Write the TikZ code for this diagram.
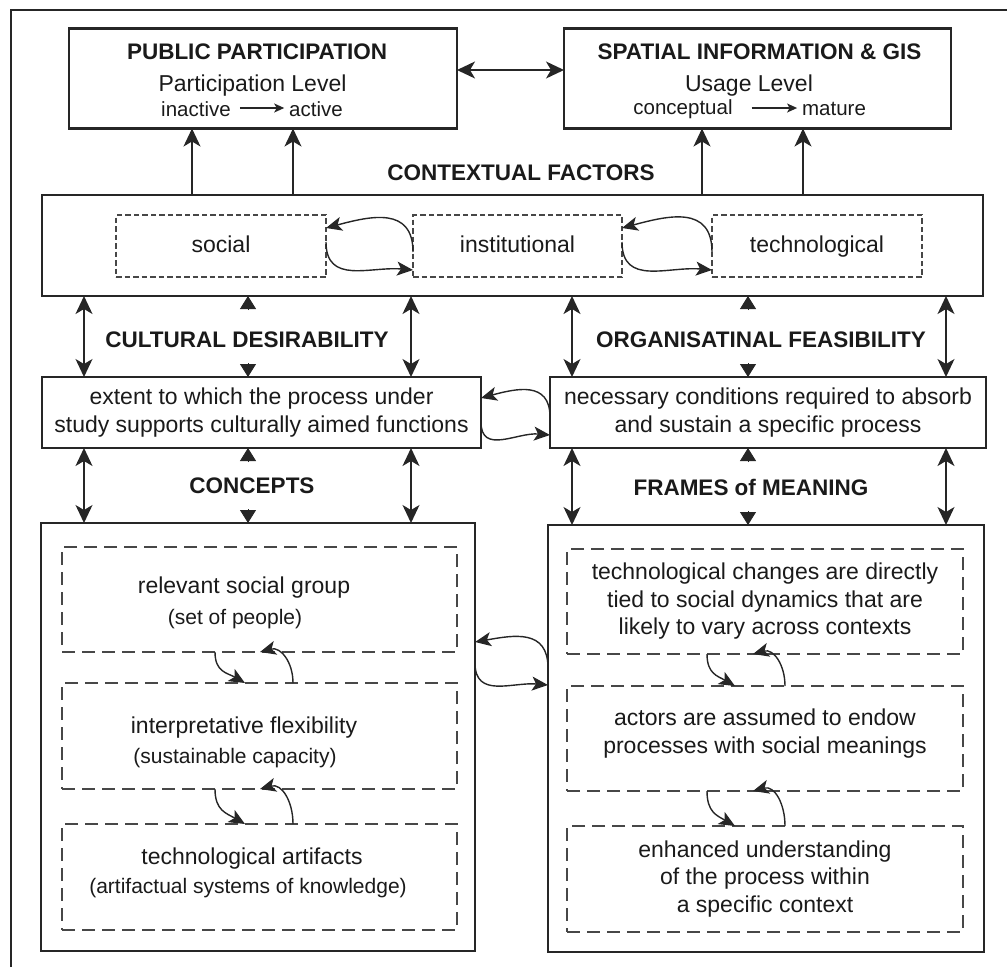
\documentclass[tikz,border=0pt]{standalone}
\usepackage{fontspec}
\setmainfont{Liberation Sans}
\usetikzlibrary{arrows.meta}

\definecolor{ink}{HTML}{262626}
\definecolor{txt}{HTML}{1A1A1A}

\begin{document}
\begin{tikzpicture}[x=1pt,y=1pt,
  every node/.style={inner sep=0pt, outer sep=0pt, text=txt},
  frame/.style={draw=ink, line width=1.8pt},
  topbox/.style={draw=ink, line width=2.6pt},
  solidbox/.style={draw=ink, line width=2pt},
  dbox/.style={draw=ink!85, line width=1.3pt, dash pattern=on 13pt off 7pt},
  sdbox/.style={draw=ink!85, line width=1.2pt, dash pattern=on 5.5pt off 3pt},
  body/.style={font=\fontsize{23}{27.5}\selectfont, align=center},
  oneline/.style={text height=17pt, text depth=5pt},
  sub/.style={font=\fontsize{21}{25}\selectfont},
  lvl/.style={font=\fontsize{20.5}{24}\selectfont},
  head/.style={font=\bfseries\fontsize{22.5}{26}\selectfont},
  bigtip/.tip={Stealth[length=18pt,width=17pt,inset=5pt]},
  curtip/.tip={Stealth[length=16pt,width=14pt,inset=4pt]},
  marktip/.tip={Triangle[length=13pt,width=16pt]},
  link/.style={draw=ink, line width=1.4pt},
  uparr/.style={link, -bigtip},
  dbl/.style={link, bigtip-bigtip},
  carr/.style={link, -curtip},
  headonly/.style={draw=ink, line width=0.8pt, -marktip},
  lvlarrow/.style={draw=ink, line width=1.3pt, -{Stealth[length=10pt,width=9pt,inset=2.5pt]}}
]
\useasboundingbox (0,0) rectangle (1007,-967);

% outer frame (top and left edges)
\coordinate (fbl) at (11,-967);
\coordinate (ftl) at (11,-10);
\coordinate (ftr) at (1007,-10);
\draw[frame] (fbl) -- (ftl) -- (ftr);

% ---------- top boxes ----------
\node[topbox, minimum width=388pt, minimum height=100pt] (pp) at (263,-78.5) {};
\node[head] (ppT) at (257,-52) {PUBLIC PARTICIPATION};
\node[body] (ppL) at (252.5,-86) {Participation Level};
\node[lvl] (ppA) at (196,-109) {inactive};
\node[lvl] (ppB) at (316,-109) {active};
\draw[lvlarrow] ([xshift=9pt,yshift=1pt]ppA.east) -- ([xshift=-5pt,yshift=1pt]ppB.west);

\node[topbox, minimum width=387pt, minimum height=100pt] (sig) at (757.5,-78.5) {};
\node[head] (sigT) at (759.5,-52) {SPATIAL INFORMATION \& GIS};
\node[body] (sigL) at (749,-86) {Usage Level};
\node[lvl] (sigA) at (683,-109) {conceptual};
\node[lvl] (sigB) at (834,-109) {mature};
\draw[lvlarrow] ([xshift=19pt,yshift=1pt]sigA.east) -- ([xshift=-5pt,yshift=1pt]sigB.west);

\draw[dbl] ([yshift=8.5pt]pp.east) -- ([yshift=8.5pt]sig.west);

% ---------- contextual factors ----------
\node[head] (ctxT) at (521,-173) {CONTEXTUAL FACTORS};
\node[solidbox, minimum width=941pt, minimum height=101pt] (ctx) at (512.5,-245.5) {};
\node[sdbox, body, oneline, minimum width=210pt, minimum height=62pt] (soc) at (221,-246) {social};
\node[sdbox, body, oneline, minimum width=209pt, minimum height=62pt] (inst) at (517.5,-246) {institutional};
\node[sdbox, body, oneline, minimum width=210pt, minimum height=62pt] (tech) at (817,-246) {technological};

\draw[carr] ([yshift=-6pt]inst.west) to[out=90,in=15,looseness=1.3] ([yshift=18pt]soc.east);
\draw[carr] ([yshift=4pt]soc.east) to[out=-90,in=175,looseness=1.2] ([yshift=-24pt]inst.west);
\draw[carr] ([yshift=-6pt]tech.west) to[out=90,in=15,looseness=1.3] ([yshift=18pt]inst.east);
\draw[carr] ([yshift=4pt]inst.east) to[out=-90,in=175,looseness=1.2] ([yshift=-24pt]tech.west);

\coordinate (t1) at (192,0);
\coordinate (t2) at (293,0);
\coordinate (t3) at (702,0);
\coordinate (t4) at (803,0);
\draw[uparr] (ctx.north -| t1) -- (pp.south -| t1);
\draw[uparr] (ctx.north -| t2) -- (pp.south -| t2);
\draw[uparr] (ctx.north -| t3) -- (sig.south -| t3);
\draw[uparr] (ctx.north -| t4) -- (sig.south -| t4);

% ---------- desirability / feasibility ----------
\node[head] (cdT) at (247,-340) {CULTURAL DESIRABILITY};
\node[head] (ofT) at (761,-340) {ORGANISATINAL FEASIBILITY};
\node[solidbox, body, minimum width=439pt, minimum height=71pt] (midL) at (261.5,-412.5)
  {extent to which the process under\\study supports culturally aimed functions};
\node[solidbox, body, minimum width=436pt, minimum height=71pt] (midR) at (768,-412.5)
  {necessary conditions required to absorb\\and sustain a specific process};

\draw[carr] ([yshift=-4.5pt]midR.west) to[out=90,in=15,looseness=1.3] ([yshift=14.5pt]midL.east);
\draw[carr] ([yshift=-9.5pt]midL.east) to[out=-90,in=175,looseness=1.2] ([yshift=-22.5pt]midR.west);

% column positions of the vertical links
\coordinate (a1) at (84,0);
\coordinate (a2) at (248,0);
\coordinate (a3) at (411,0);
\coordinate (a4) at (572,0);
\coordinate (a5) at (748,0);
\coordinate (a6) at (946,0);

\draw[dbl] (ctx.south -| a1) -- (midL.north -| a1);
\draw[dbl] (ctx.south -| a3) -- (midL.north -| a3);
\draw[dbl] (ctx.south -| a4) -- (midR.north -| a4);
\draw[dbl] (ctx.south -| a6) -- (midR.north -| a6);

\coordinate (m1) at (ctx.south -| a2);
\coordinate (m2) at (midL.north -| a2);
\coordinate (m3) at (ctx.south -| a5);
\coordinate (m4) at (midR.north -| a5);
\draw[headonly] ([yshift=-14pt]m1) -- (m1);
\draw[headonly] ([yshift=14pt]m2) -- (m2);
\draw[headonly] ([yshift=-14pt]m3) -- (m3);
\draw[headonly] ([yshift=14pt]m4) -- (m4);

% ---------- concepts / frames of meaning ----------
\node[head] (coT) at (252,-486) {CONCEPTS};
\node[head] (fmT) at (751,-487) {FRAMES of MEANING};

\node[solidbox, minimum width=434pt, minimum height=428pt] (botL) at (258,-737) {};
\node[solidbox, minimum width=436pt, minimum height=427pt] (botR) at (766,-738.5) {};

\draw[dbl] (midL.south -| a1) -- (botL.north -| a1);
\draw[dbl] (midL.south -| a3) -- (botL.north -| a3);
\draw[dbl] (midR.south -| a4) -- (botR.north -| a4);
\draw[dbl] (midR.south -| a6) -- (botR.north -| a6);

\coordinate (m5) at (midL.south -| a2);
\coordinate (m6) at (botL.north -| a2);
\coordinate (m7) at (midR.south -| a5);
\coordinate (m8) at (botR.north -| a5);
\draw[headonly] ([yshift=-14pt]m5) -- (m5);
\draw[headonly] ([yshift=14pt]m6) -- (m6);
\draw[headonly] ([yshift=-14pt]m7) -- (m7);
\draw[headonly] ([yshift=14pt]m8) -- (m8);

\draw[carr] ([yshift=70.5pt]botR.west) to[out=90,in=10,looseness=1.3] ([yshift=95pt]botL.east);
\draw[carr] ([yshift=74pt]botL.east) to[out=-90,in=175,looseness=1.2] ([yshift=53.5pt]botR.west);

% concepts column
\node[dbox, minimum width=395pt, minimum height=105pt] (L1) at (259.5,-599.5) {};
\node[dbox, minimum width=395pt, minimum height=106pt] (L2) at (259.5,-736) {};
\node[dbox, minimum width=395pt, minimum height=106pt] (L3) at (259.5,-877) {};
\node[body, oneline] (L1a) at (244,-587) {relevant social group};
\node[sub, oneline]  (L1b) at (235,-618) {(set of people)};
\node[body, oneline] (L2a) at (244,-727) {interpretative flexibility};
\node[sub, oneline]  (L2b) at (235,-757) {(sustainable capacity)};
\node[body, oneline] (L3a) at (252,-858) {technological artifacts};
\node[sub, oneline]  (L3b) at (248,-887) {(artifactual systems of knowledge)};

\draw[carr] ([xshift=-44.5pt]L1.south) to[out=-90,in=150,looseness=1.2] ([xshift=-14.5pt]L2.north);
\draw[carr] ([xshift=33.5pt]L2.north) to[out=90,in=15,looseness=1.2] ([xshift=0.5pt]L1.south);
\draw[carr] ([xshift=-44.5pt]L2.south) to[out=-90,in=150,looseness=1.2] ([xshift=-14.5pt]L3.north);
\draw[carr] ([xshift=33.5pt]L3.north) to[out=90,in=15,looseness=1.2] ([xshift=0.5pt]L2.south);

% frames of meaning column
\node[dbox, body, minimum width=396pt, minimum height=105pt] (R1) at (765,-601.5)
  {technological changes are directly\\tied to social dynamics that are\\likely to vary across contexts};
\node[dbox, minimum width=396pt, minimum height=105pt] (R2) at (765,-738.5) {};
\node[body] (R2a) at (765,-733.5) {actors are assumed to endow\\processes with social meanings};
\node[dbox, body, minimum width=396pt, minimum height=106pt] (R3) at (765,-879)
  {enhanced understanding\\of the process within\\a specific context};

\draw[carr] ([xshift=-58pt]R1.south) to[out=-90,in=150,looseness=1.2] ([xshift=-30pt]R2.north);
\draw[carr] ([xshift=20pt]R2.north) to[out=90,in=15,looseness=1.2] ([xshift=-12pt]R1.south);
\draw[carr] ([xshift=-58pt]R2.south) to[out=-90,in=150,looseness=1.2] ([xshift=-30pt]R3.north);
\draw[carr] ([xshift=20pt]R3.north) to[out=90,in=15,looseness=1.2] ([xshift=-12pt]R2.south);
\end{tikzpicture}
\end{document}
